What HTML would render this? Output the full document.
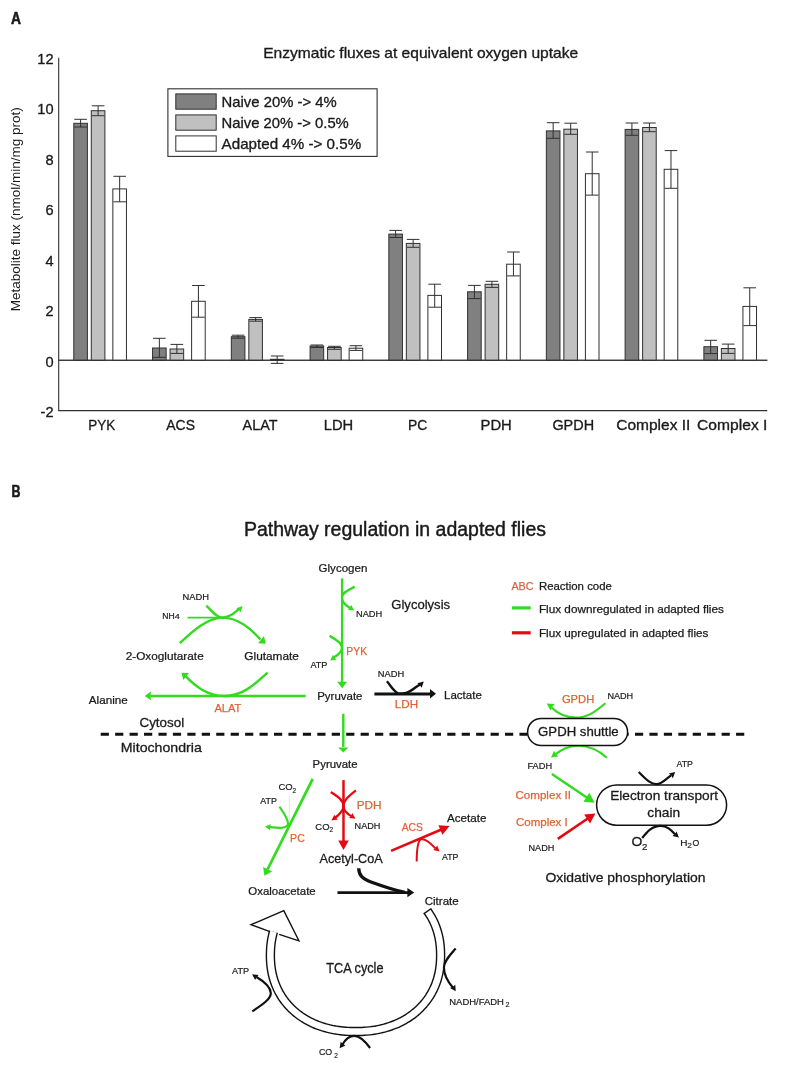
<!DOCTYPE html>
<html><head><meta charset="utf-8"><style>
html,body{margin:0;padding:0;background:#fff;}
svg{display:block;will-change:transform;}
text{font-family:"Liberation Sans",sans-serif;stroke-linejoin:round;}
</style></head><body>
<svg width="785" height="1066" viewBox="0 0 785 1066">
<rect width="785" height="1066" fill="#fff"/>
<g fill="#1a1a1a" stroke="#1a1a1a" stroke-width="0">
<text x="11.0" y="23.6" font-size="16.6" font-weight="bold" stroke-width="0.6" textLength="10.0" lengthAdjust="spacingAndGlyphs">A</text>
<text x="263.2" y="58.2" font-size="15" textLength="315.0" lengthAdjust="spacingAndGlyphs" stroke-width="0.33">Enzymatic fluxes at equivalent oxygen uptake</text>
<path d="M58.7,57.8V410.6H767.3" fill="none" stroke="#303030" stroke-width="1.1"/>
<path d="M58.7,360.3H767.3" fill="none" stroke="#303030" stroke-width="1.1"/>
<text x="53.5" y="63.7" font-size="14.6" stroke-width="0.32" text-anchor="end">12</text>
<text x="53.5" y="114.2" font-size="14.6" stroke-width="0.32" text-anchor="end">10</text>
<text x="53.5" y="164.7" font-size="14.6" stroke-width="0.32" text-anchor="end">8</text>
<text x="53.5" y="215.2" font-size="14.6" stroke-width="0.32" text-anchor="end">6</text>
<text x="53.5" y="265.7" font-size="14.6" stroke-width="0.32" text-anchor="end">4</text>
<text x="53.5" y="316.2" font-size="14.6" stroke-width="0.32" text-anchor="end">2</text>
<text x="53.5" y="366.7" font-size="14.6" stroke-width="0.32" text-anchor="end">0</text>
<text x="53.5" y="417.2" font-size="14.6" stroke-width="0.32" text-anchor="end">-2</text>
<text transform="translate(20.3,311.2) rotate(-90)" font-size="13.3" textLength="204" lengthAdjust="spacingAndGlyphs">Metabolite flux (nmol/min/mg prot)</text>
<rect x="73.80" y="123.30" width="13.6" height="237.00" fill="#808080" stroke="#303030" stroke-width="1"/>
<path d="M74.30,119.30H86.90M80.60,119.30V127.00M74.30,127.00H86.90" fill="none" stroke="#303030" stroke-width="1"/>
<rect x="91.30" y="110.70" width="13.6" height="249.60" fill="#c0c0c0" stroke="#303030" stroke-width="1"/>
<path d="M91.80,105.80H104.40M98.10,105.80V115.70M91.80,115.70H104.40" fill="none" stroke="#303030" stroke-width="1"/>
<rect x="112.85" y="188.90" width="13.6" height="171.40" fill="#ffffff" stroke="#303030" stroke-width="1"/>
<path d="M113.35,176.30H125.95M119.65,176.30V201.80M113.35,201.80H125.95" fill="none" stroke="#303030" stroke-width="1"/>
<rect x="152.56" y="348.00" width="13.6" height="12.30" fill="#808080" stroke="#303030" stroke-width="1"/>
<path d="M153.06,338.30H165.66M159.36,338.30V357.30M153.06,357.30H165.66" fill="none" stroke="#303030" stroke-width="1"/>
<rect x="170.06" y="349.00" width="13.6" height="11.30" fill="#c0c0c0" stroke="#303030" stroke-width="1"/>
<path d="M170.56,344.40H183.16M176.86,344.40V353.40M170.56,353.40H183.16" fill="none" stroke="#303030" stroke-width="1"/>
<rect x="191.61" y="301.30" width="13.6" height="59.00" fill="#ffffff" stroke="#303030" stroke-width="1"/>
<path d="M192.11,285.50H204.71M198.41,285.50V317.20M192.11,317.20H204.71" fill="none" stroke="#303030" stroke-width="1"/>
<rect x="231.32" y="336.70" width="13.6" height="23.60" fill="#808080" stroke="#303030" stroke-width="1"/>
<path d="M231.82,335.20H244.42M238.12,335.20V338.20M231.82,338.20H244.42" fill="none" stroke="#303030" stroke-width="1"/>
<rect x="248.82" y="319.40" width="13.6" height="40.90" fill="#c0c0c0" stroke="#303030" stroke-width="1"/>
<path d="M249.32,317.60H261.92M255.62,317.60V321.20M249.32,321.20H261.92" fill="none" stroke="#303030" stroke-width="1"/>
<rect x="270.37" y="359.30" width="13.6" height="1.00" fill="#ffffff" stroke="#303030" stroke-width="1"/>
<path d="M270.87,356.00H283.47M277.17,356.00V363.40M270.87,363.40H283.47" fill="none" stroke="#303030" stroke-width="1"/>
<rect x="310.08" y="346.00" width="13.6" height="14.30" fill="#808080" stroke="#303030" stroke-width="1"/>
<path d="M310.58,345.00H323.18M316.88,345.00V347.50M310.58,347.50H323.18" fill="none" stroke="#303030" stroke-width="1"/>
<rect x="327.58" y="347.50" width="13.6" height="12.80" fill="#c0c0c0" stroke="#303030" stroke-width="1"/>
<path d="M328.08,346.30H340.68M334.38,346.30V349.30M328.08,349.30H340.68" fill="none" stroke="#303030" stroke-width="1"/>
<rect x="349.13" y="348.20" width="13.6" height="12.10" fill="#ffffff" stroke="#303030" stroke-width="1"/>
<path d="M349.63,345.70H362.23M355.93,345.70V350.40M349.63,350.40H362.23" fill="none" stroke="#303030" stroke-width="1"/>
<rect x="388.84" y="234.10" width="13.6" height="126.20" fill="#808080" stroke="#303030" stroke-width="1"/>
<path d="M389.34,230.40H401.94M395.64,230.40V237.50M389.34,237.50H401.94" fill="none" stroke="#303030" stroke-width="1"/>
<rect x="406.34" y="243.40" width="13.6" height="116.90" fill="#c0c0c0" stroke="#303030" stroke-width="1"/>
<path d="M406.84,239.40H419.44M413.14,239.40V247.30M406.84,247.30H419.44" fill="none" stroke="#303030" stroke-width="1"/>
<rect x="427.89" y="295.40" width="13.6" height="64.90" fill="#ffffff" stroke="#303030" stroke-width="1"/>
<path d="M428.39,284.20H440.99M434.69,284.20V307.20M428.39,307.20H440.99" fill="none" stroke="#303030" stroke-width="1"/>
<rect x="467.60" y="291.80" width="13.6" height="68.50" fill="#808080" stroke="#303030" stroke-width="1"/>
<path d="M468.10,285.40H480.70M474.40,285.40V298.60M468.10,298.60H480.70" fill="none" stroke="#303030" stroke-width="1"/>
<rect x="485.10" y="284.30" width="13.6" height="76.00" fill="#c0c0c0" stroke="#303030" stroke-width="1"/>
<path d="M485.60,281.30H498.20M491.90,281.30V287.40M485.60,287.40H498.20" fill="none" stroke="#303030" stroke-width="1"/>
<rect x="506.65" y="264.20" width="13.6" height="96.10" fill="#ffffff" stroke="#303030" stroke-width="1"/>
<path d="M507.15,252.00H519.75M513.45,252.00V275.90M507.15,275.90H519.75" fill="none" stroke="#303030" stroke-width="1"/>
<rect x="546.36" y="130.90" width="13.6" height="229.40" fill="#808080" stroke="#303030" stroke-width="1"/>
<path d="M546.86,122.70H559.46M553.16,122.70V138.30M546.86,138.30H559.46" fill="none" stroke="#303030" stroke-width="1"/>
<rect x="563.86" y="129.20" width="13.6" height="231.10" fill="#c0c0c0" stroke="#303030" stroke-width="1"/>
<path d="M564.36,123.20H576.96M570.66,123.20V134.30M564.36,134.30H576.96" fill="none" stroke="#303030" stroke-width="1"/>
<rect x="585.41" y="173.70" width="13.6" height="186.60" fill="#ffffff" stroke="#303030" stroke-width="1"/>
<path d="M585.91,152.00H598.51M592.21,152.00V195.10M585.91,195.10H598.51" fill="none" stroke="#303030" stroke-width="1"/>
<rect x="625.12" y="129.40" width="13.6" height="230.90" fill="#808080" stroke="#303030" stroke-width="1"/>
<path d="M625.62,123.00H638.22M631.92,123.00V135.30M625.62,135.30H638.22" fill="none" stroke="#303030" stroke-width="1"/>
<rect x="642.62" y="127.50" width="13.6" height="232.80" fill="#c0c0c0" stroke="#303030" stroke-width="1"/>
<path d="M643.12,123.00H655.72M649.42,123.00V131.70M643.12,131.70H655.72" fill="none" stroke="#303030" stroke-width="1"/>
<rect x="664.17" y="169.30" width="13.6" height="191.00" fill="#ffffff" stroke="#303030" stroke-width="1"/>
<path d="M664.67,150.60H677.27M670.97,150.60V188.30M664.67,188.30H677.27" fill="none" stroke="#303030" stroke-width="1"/>
<rect x="703.88" y="346.70" width="13.6" height="13.60" fill="#808080" stroke="#303030" stroke-width="1"/>
<path d="M704.38,340.30H716.98M710.68,340.30V353.60M704.38,353.60H716.98" fill="none" stroke="#303030" stroke-width="1"/>
<rect x="721.38" y="348.50" width="13.6" height="11.80" fill="#c0c0c0" stroke="#303030" stroke-width="1"/>
<path d="M721.88,344.10H734.48M728.18,344.10V353.40M721.88,353.40H734.48" fill="none" stroke="#303030" stroke-width="1"/>
<rect x="742.93" y="306.40" width="13.6" height="53.90" fill="#ffffff" stroke="#303030" stroke-width="1"/>
<path d="M743.43,287.80H756.03M749.73,287.80V325.60M743.43,325.60H756.03" fill="none" stroke="#303030" stroke-width="1"/>
<path d="M58.7,360.3H767.3" fill="none" stroke="#303030" stroke-width="1.1"/>
<text x="88.3" y="429.8" font-size="15" textLength="26.9" lengthAdjust="spacingAndGlyphs" stroke-width="0.33">PYK</text>
<text x="166.3" y="429.8" font-size="15" textLength="28.7" lengthAdjust="spacingAndGlyphs" stroke-width="0.33">ACS</text>
<text x="242.6" y="429.8" font-size="15" textLength="34.9" lengthAdjust="spacingAndGlyphs" stroke-width="0.33">ALAT</text>
<text x="323.7" y="429.8" font-size="15" textLength="29.5" lengthAdjust="spacingAndGlyphs" stroke-width="0.33">LDH</text>
<text x="408.0" y="429.8" font-size="15" textLength="19.3" lengthAdjust="spacingAndGlyphs" stroke-width="0.33">PC</text>
<text x="480.5" y="429.8" font-size="15" textLength="31.3" lengthAdjust="spacingAndGlyphs" stroke-width="0.33">PDH</text>
<text x="552.4" y="429.8" font-size="15" textLength="41.7" lengthAdjust="spacingAndGlyphs" stroke-width="0.33">GPDH</text>
<text x="616.2" y="429.8" font-size="15" textLength="74.2" lengthAdjust="spacingAndGlyphs" stroke-width="0.33">Complex II</text>
<text x="697.1" y="429.8" font-size="15" textLength="70.3" lengthAdjust="spacingAndGlyphs" stroke-width="0.33">Complex I</text>
<rect x="167.9" y="88.8" width="209.2" height="67.6" fill="#fff" stroke="#303030" stroke-width="1.1"/>
<rect x="175.8" y="93.9" width="40.4" height="15.3" fill="#808080" stroke="#303030" stroke-width="1"/>
<rect x="175.8" y="114.9" width="40.4" height="15.3" fill="#c0c0c0" stroke="#303030" stroke-width="1"/>
<rect x="175.8" y="135.9" width="40.4" height="15.3" fill="#ffffff" stroke="#303030" stroke-width="1"/>
<text x="221.6" y="106.8" font-size="14.8" textLength="115.0" lengthAdjust="spacingAndGlyphs" stroke-width="0.33">Naive 20% -&gt; 4%</text>
<text x="221.6" y="128.2" font-size="14.8" textLength="127.2" lengthAdjust="spacingAndGlyphs" stroke-width="0.33">Naive 20% -&gt; 0.5%</text>
<text x="221.6" y="149.4" font-size="14.8" textLength="139.6" lengthAdjust="spacingAndGlyphs" stroke-width="0.33">Adapted 4% -&gt; 0.5%</text>
<text x="11.6" y="496.6" font-size="16.2" font-weight="bold" stroke-width="0.6" textLength="9.0" lengthAdjust="spacingAndGlyphs">B</text>
<text x="244.0" y="536.2" font-size="20" textLength="302.0" lengthAdjust="spacingAndGlyphs" stroke-width="0.44">Pathway regulation in adapted flies</text>
<text x="511.4" y="589.8" font-size="11.4" textLength="22.0" lengthAdjust="spacingAndGlyphs" fill="#dc6238" stroke="#dc6238" stroke-width="0.25">ABC</text>
<text x="538.9" y="589.8" font-size="11.4" textLength="73.0" lengthAdjust="spacingAndGlyphs" stroke-width="0.25">Reaction code</text>
<path d="M511.9,607.9H530.7" stroke="#33da20" stroke-width="3.2"/>
<path d="M511.9,632.8H530.7" stroke="#e40a12" stroke-width="3.2"/>
<text x="538.9" y="612.5" font-size="11.4" textLength="185.0" lengthAdjust="spacingAndGlyphs" stroke-width="0.25">Flux downregulated in adapted flies</text>
<text x="538.9" y="636.9" font-size="11.4" textLength="169.5" lengthAdjust="spacingAndGlyphs" stroke-width="0.25">Flux upregulated in adapted flies</text>
<text x="182.6" y="599.5" font-size="8.6" textLength="26.5" lengthAdjust="spacingAndGlyphs" stroke-width="0.19">NADH</text>
<text x="162.2" y="619.0" font-size="8.8" textLength="12.4" lengthAdjust="spacingAndGlyphs" stroke-width="0.19">NH</text>
<text x="174.8" y="619.0" font-size="7.2" textLength="5.0" lengthAdjust="spacingAndGlyphs" stroke-width="0.16">4</text>
<path d="M187.5,617.6H222" fill="none" stroke="#33da20" stroke-width="1.7"/>
<path d="M206.3,605.6C213,612 217,617.6 222,617.6C229,617.6 233,614 238.6,609.2" fill="none" stroke="#33da20" stroke-width="2.4"/>
<polygon points="242.60,606.10 240.70,612.35 238.88,609.92 236.40,608.16" fill="#33da20"/>
<path d="M179.8,643.1C188,636 204,618.5 222,617.6C238,617.6 250,628 260.5,639.5" fill="none" stroke="#33da20" stroke-width="2.4"/>
<polygon points="265.80,643.70 258.02,643.15 260.99,639.64 263.95,636.12" fill="#33da20"/>
<text x="125.7" y="660.3" font-size="11" textLength="78.0" lengthAdjust="spacingAndGlyphs" stroke-width="0.24">2-Oxoglutarate</text>
<text x="244.3" y="659.5" font-size="11.3" textLength="54.6" lengthAdjust="spacingAndGlyphs" stroke-width="0.25">Glutamate</text>
<path d="M267.6,672.6C255,684 243,696 224.3,696C207,696 195,686 185.5,676.2" fill="none" stroke="#33da20" stroke-width="2.4"/>
<polygon points="181.50,672.80 188.99,673.12 186.14,676.60 183.29,680.08" fill="#33da20"/>
<path d="M305.7,696H150.5" fill="none" stroke="#33da20" stroke-width="2.4"/>
<polygon points="144.80,695.90 150.80,691.50 150.80,695.90 150.80,700.30" fill="#33da20"/>
<text x="88.8" y="703.7" font-size="11" textLength="38.9" lengthAdjust="spacingAndGlyphs" stroke-width="0.24">Alanine</text>
<text x="214.4" y="712.4" font-size="11.5" textLength="27.0" lengthAdjust="spacingAndGlyphs" fill="#dc6238" stroke="#dc6238" stroke-width="0.25">ALAT</text>
<text x="318.6" y="571.8" font-size="10.5" textLength="48.7" lengthAdjust="spacingAndGlyphs" stroke-width="0.23">Glycogen</text>
<path d="M342.1,578.4V682" fill="none" stroke="#33da20" stroke-width="2.4"/>
<polygon points="342.10,688.30 337.10,681.70 342.10,681.70 347.10,681.70" fill="#33da20"/>
<path d="M354.6,586.6C347,591 342.1,593 342.1,596.5" fill="none" stroke="#33da20" stroke-width="2.4"/>
<path d="M342.1,599.5C343,603 346.5,606 350.5,608.2" fill="none" stroke="#33da20" stroke-width="2.4"/>
<polygon points="354.20,610.60 347.72,609.77 349.81,607.56 351.14,604.83" fill="#33da20"/>
<text x="356.0" y="617.2" font-size="8.8" textLength="26.2" lengthAdjust="spacingAndGlyphs" stroke-width="0.19">NADH</text>
<text x="391.3" y="609.0" font-size="12.7" textLength="58.8" lengthAdjust="spacingAndGlyphs" stroke-width="0.28">Glycolysis</text>
<path d="M329.6,635.9C337,640 342.1,644 342.1,647.4C342.1,651 338,655 333.5,657.8" fill="none" stroke="#33da20" stroke-width="2.4"/>
<polygon points="330.10,660.40 333.10,654.80 334.39,657.54 336.42,659.79" fill="#33da20"/>
<text x="310.4" y="668.4" font-size="8.8" textLength="17.0" lengthAdjust="spacingAndGlyphs" stroke-width="0.19">ATP</text>
<text x="346.3" y="655.0" font-size="11.3" textLength="20.8" lengthAdjust="spacingAndGlyphs" fill="#dc6238" stroke="#dc6238" stroke-width="0.25">PYK</text>
<text x="317.2" y="699.6" font-size="11" textLength="45.3" lengthAdjust="spacingAndGlyphs" stroke-width="0.24">Pyruvate</text>
<path d="M374.4,694H430.5" fill="none" stroke="#111" stroke-width="2.8"/>
<polygon points="436.00,693.80 430.00,698.60 430.00,693.80 430.00,689.00" fill="#111"/>
<path d="M386.9,681.3C391.5,686.5 395,693.8 400,693.8C405,693.8 409,692.5 413,689.3C415.5,687.3 417.5,685.8 420.0,684.5" fill="none" stroke="#111" stroke-width="2.4"/>
<polygon points="423.80,681.40 421.67,687.81 419.85,685.26 417.34,683.37" fill="#111"/>
<text x="377.8" y="676.9" font-size="8.8" textLength="26.4" lengthAdjust="spacingAndGlyphs" stroke-width="0.19">NADH</text>
<text x="394.8" y="708.3" font-size="11.5" textLength="23.3" lengthAdjust="spacingAndGlyphs" fill="#dc6238" stroke="#dc6238" stroke-width="0.25">LDH</text>
<text x="444.0" y="698.7" font-size="11.3" textLength="37.8" lengthAdjust="spacingAndGlyphs" stroke-width="0.25">Lactate</text>
<path d="M100.7,734.2H745" stroke="#111" stroke-width="3.1" stroke-dasharray="8.2 6.24"/>
<text x="139.5" y="726.6" font-size="12.2" textLength="44.6" lengthAdjust="spacingAndGlyphs" stroke-width="0.27">Cytosol</text>
<text x="120.8" y="751.6" font-size="12.8" textLength="81.0" lengthAdjust="spacingAndGlyphs" stroke-width="0.28">Mitochondria</text>
<path d="M343.3,713.7V747" fill="none" stroke="#33da20" stroke-width="2.4"/>
<polygon points="343.30,752.60 338.20,747.40 343.30,747.40 348.40,747.40" fill="#33da20"/>
<text x="312.6" y="768.0" font-size="11" textLength="45.0" lengthAdjust="spacingAndGlyphs" stroke-width="0.24">Pyruvate</text>
<path d="M343.5,780.1V842" fill="none" stroke="#e40a12" stroke-width="2.5"/>
<polygon points="343.50,849.90 338.20,840.50 343.50,840.50 348.80,840.50" fill="#e40a12"/>
<path d="M330.8,792.1C337,796 343.5,800 343.5,806C343.5,800 350,795 355.9,790.4" fill="none" stroke="#e40a12" stroke-width="2.3"/>
<path d="M343.5,806C343.5,811 339,815 334.5,818.3" fill="none" stroke="#e40a12" stroke-width="2.3"/>
<polygon points="331.40,820.50 334.36,814.68 335.74,817.39 337.86,819.56" fill="#e40a12"/>
<path d="M343.5,806C343.5,811 348,814.5 352.5,816.8" fill="none" stroke="#e40a12" stroke-width="2.3"/>
<polygon points="355.50,818.80 349.01,818.08 351.06,815.84 352.34,813.09" fill="#e40a12"/>
<text x="315.3" y="829.6" font-size="8.8" textLength="14.2" lengthAdjust="spacingAndGlyphs" stroke-width="0.19">CO</text>
<text x="329.6" y="832.2" font-size="6.5" textLength="3.6" lengthAdjust="spacingAndGlyphs" stroke-width="0.14">2</text>
<text x="356.7" y="809.0" font-size="11.5" textLength="24.8" lengthAdjust="spacingAndGlyphs" fill="#dc6238" stroke="#dc6238" stroke-width="0.25">PDH</text>
<text x="354.6" y="828.9" font-size="8.8" textLength="25.8" lengthAdjust="spacingAndGlyphs" stroke-width="0.19">NADH</text>
<text x="319.5" y="862.8" font-size="12.3" textLength="63.2" lengthAdjust="spacingAndGlyphs" stroke-width="0.27">Acetyl-CoA</text>
<path d="M312.7,778.9L267.5,869.5" fill="none" stroke="#33da20" stroke-width="2.7"/>
<path d="M289.3,796.3V821" stroke="#d8d8d8" stroke-width="0.7"/>
<polygon points="264.40,875.70 263.10,867.03 267.58,869.24 272.07,871.45" fill="#33da20"/>
<path d="M279.4,806.7C284,813 288,819 288.2,824.6C286,828.5 281,828.4 270.0,827.1" fill="none" stroke="#33da20" stroke-width="2.1"/>
<polygon points="264.90,826.60 270.80,824.25 270.02,827.18 270.13,830.21" fill="#33da20"/>
<text x="278.4" y="789.9" font-size="8.8" textLength="14.2" lengthAdjust="spacingAndGlyphs" stroke-width="0.19">CO</text>
<text x="292.6" y="792.6" font-size="6.5" textLength="3.6" lengthAdjust="spacingAndGlyphs" stroke-width="0.14">2</text>
<text x="260.3" y="804.0" font-size="8.8" textLength="16.6" lengthAdjust="spacingAndGlyphs" stroke-width="0.19">ATP</text>
<text x="290.1" y="841.6" font-size="11.5" textLength="14.7" lengthAdjust="spacingAndGlyphs" fill="#dc6238" stroke="#dc6238" stroke-width="0.25">PC</text>
<text x="248.3" y="895.0" font-size="11" textLength="67.4" lengthAdjust="spacingAndGlyphs" stroke-width="0.24">Oxaloacetate</text>
<path d="M391,850.9L441.5,829.5" fill="none" stroke="#e40a12" stroke-width="2.6"/>
<polygon points="449.60,826.10 442.45,834.81 440.40,830.03 438.36,825.25" fill="#e40a12"/>
<path d="M416.7,861.6C416.7,852 417.5,842 420.5,839.4C425,838 430,843 435.5,848.4" fill="none" stroke="#e40a12" stroke-width="2.0"/>
<polygon points="439.60,851.60 433.25,850.06 435.57,848.10 437.19,845.53" fill="#e40a12"/>
<text x="401.7" y="831.3" font-size="11.5" textLength="21.2" lengthAdjust="spacingAndGlyphs" fill="#dc6238" stroke="#dc6238" stroke-width="0.25">ACS</text>
<text x="447.0" y="821.5" font-size="11.3" textLength="39.4" lengthAdjust="spacingAndGlyphs" stroke-width="0.25">Acetate</text>
<text x="442.0" y="859.7" font-size="8.8" textLength="16.4" lengthAdjust="spacingAndGlyphs" stroke-width="0.19">ATP</text>
<path d="M337.5,892.6H408" fill="none" stroke="#111" stroke-width="2.8"/>
<polygon points="414.20,892.60 407.40,897.30 407.40,892.60 407.40,887.90" fill="#111"/>
<path d="M358.7,868.3C358.9,875.5 362.5,879 371,882C382,886 394,890.2 405,892.4" fill="none" stroke="#111" stroke-width="3.3"/>
<text x="424.7" y="905.4" font-size="11.3" textLength="34.0" lengthAdjust="spacingAndGlyphs" stroke-width="0.25">Citrate</text>
<path d="M270.6,931.8L251.0,924.7L283.8,910.7L298.9,940.8L279.2,934.4" fill="#fff" stroke="#111" stroke-width="1.4" stroke-linejoin="miter"/>
<path d="M427.48,911.13C427.67,911.40 428.24,912.21 428.61,912.76C428.98,913.30 429.34,913.86 429.69,914.41C430.04,914.97 430.38,915.54 430.72,916.10C431.05,916.67 431.38,917.25 431.70,917.83C432.02,918.40 432.33,918.99 432.63,919.58C432.94,920.17 433.23,920.76 433.52,921.36C433.80,921.96 434.08,922.56 434.35,923.17C434.62,923.78 434.88,924.39 435.13,925.01C435.38,925.63 435.63,926.25 435.86,926.88C436.10,927.51 436.33,928.14 436.54,928.78C436.76,929.42 436.97,930.06 437.17,930.70C437.37,931.35 437.57,932.00 437.75,932.66C437.93,933.32 438.11,933.98 438.27,934.64C438.44,935.31 438.60,935.98 438.74,936.66C438.89,937.33 439.03,938.01 439.16,938.70C439.29,939.39 439.42,940.08 439.53,940.78C439.64,941.48 439.75,942.18 439.84,942.89C439.94,943.60 440.02,944.31 440.10,945.04C440.18,945.76 440.25,946.49 440.30,947.24C440.36,947.98 440.41,948.73 440.46,949.49C440.50,950.26 440.53,951.02 440.55,951.83C440.58,952.64 440.59,953.45 440.60,954.34C440.60,955.22 440.60,956.26 440.59,957.13C440.58,958.00 440.55,958.77 440.52,959.55C440.49,960.34 440.45,961.10 440.41,961.86C440.36,962.61 440.30,963.35 440.23,964.09C440.17,964.82 440.09,965.55 440.01,966.27C439.93,966.99 439.83,967.70 439.73,968.40C439.63,969.11 439.52,969.81 439.40,970.50C439.28,971.19 439.15,971.88 439.01,972.56C438.88,973.25 438.73,973.92 438.58,974.60C438.42,975.27 438.26,975.94 438.08,976.60C437.91,977.26 437.73,977.92 437.54,978.57C437.35,979.22 437.15,979.87 436.94,980.52C436.74,981.16 436.52,981.80 436.30,982.43C436.07,983.07 435.84,983.69 435.60,984.32C435.36,984.94 435.11,985.56 434.85,986.18C434.59,986.79 434.32,987.40 434.05,988.01C433.77,988.61 433.49,989.21 433.19,989.81C432.90,990.40 432.60,990.99 432.29,991.58C431.98,992.16 431.67,992.74 431.34,993.32C431.02,993.89 430.68,994.46 430.34,995.03C430.00,995.59 429.65,996.15 429.29,996.71C428.93,997.26 428.57,997.81 428.19,998.35C427.82,998.90 427.44,999.43 427.05,999.97C426.66,1000.50 426.26,1001.03 425.86,1001.55C425.45,1002.07 425.04,1002.58 424.62,1003.09C424.20,1003.60 423.77,1004.11 423.34,1004.61C422.90,1005.11 422.46,1005.60 422.01,1006.08C421.56,1006.57 421.10,1007.05 420.64,1007.53C420.17,1008.00 419.70,1008.47 419.22,1008.93C418.74,1009.39 418.25,1009.85 417.76,1010.30C417.27,1010.75 416.76,1011.19 416.26,1011.63C415.75,1012.07 415.23,1012.50 414.71,1012.92C414.19,1013.35 413.66,1013.77 413.13,1014.18C412.59,1014.59 412.05,1014.99 411.50,1015.39C410.95,1015.79 410.40,1016.18 409.84,1016.57C409.28,1016.95 408.71,1017.33 408.14,1017.70C407.56,1018.07 406.98,1018.43 406.39,1018.79C405.81,1019.15 405.21,1019.50 404.61,1019.84C404.02,1020.18 403.41,1020.52 402.80,1020.85C402.19,1021.18 401.57,1021.50 400.95,1021.81C400.32,1022.13 399.70,1022.44 399.06,1022.74C398.43,1023.04 397.79,1023.33 397.14,1023.62C396.49,1023.90 395.84,1024.18 395.18,1024.45C394.53,1024.72 393.86,1024.98 393.19,1025.24C392.53,1025.50 391.85,1025.74 391.17,1025.98C390.49,1026.22 389.81,1026.46 389.12,1026.68C388.43,1026.91 387.73,1027.13 387.03,1027.34C386.33,1027.55 385.62,1027.75 384.91,1027.94C384.20,1028.14 383.49,1028.33 382.76,1028.51C382.04,1028.68 381.31,1028.86 380.58,1029.02C379.85,1029.18 379.11,1029.34 378.37,1029.49C377.62,1029.63 376.87,1029.77 376.12,1029.91C375.36,1030.04 374.60,1030.16 373.84,1030.28C373.07,1030.40 372.30,1030.50 371.52,1030.61C370.74,1030.71 369.96,1030.80 369.16,1030.88C368.37,1030.97 367.57,1031.04 366.76,1031.11C365.95,1031.18 365.14,1031.24 364.31,1031.29C363.48,1031.35 362.65,1031.39 361.79,1031.43C360.93,1031.46 360.08,1031.49 359.17,1031.51C358.27,1031.53 357.35,1031.54 356.36,1031.55C355.38,1031.55 354.22,1031.55 353.26,1031.54C352.29,1031.52 351.44,1031.51 350.56,1031.48C349.69,1031.45 348.84,1031.41 348.00,1031.37C347.16,1031.32 346.33,1031.27 345.51,1031.21C344.70,1031.15 343.89,1031.08 343.09,1031.01C342.29,1030.93 341.49,1030.85 340.71,1030.76C339.92,1030.66 339.14,1030.56 338.37,1030.46C337.60,1030.35 336.83,1030.23 336.07,1030.11C335.31,1029.98 334.55,1029.85 333.81,1029.71C333.06,1029.57 332.31,1029.43 331.57,1029.27C330.84,1029.11 330.10,1028.95 329.37,1028.78C328.65,1028.61 327.92,1028.43 327.21,1028.24C326.49,1028.06 325.78,1027.86 325.07,1027.66C324.37,1027.46 323.67,1027.25 322.97,1027.03C322.27,1026.81 321.58,1026.59 320.90,1026.36C320.21,1026.12 319.53,1025.88 318.86,1025.63C318.19,1025.39 317.52,1025.13 316.85,1024.87C316.19,1024.61 315.53,1024.34 314.88,1024.06C314.23,1023.78 313.58,1023.49 312.94,1023.20C312.30,1022.91 311.66,1022.61 311.04,1022.30C310.41,1022.00 309.78,1021.68 309.17,1021.36C308.55,1021.04 307.94,1020.71 307.33,1020.37C306.73,1020.04 306.13,1019.70 305.53,1019.35C304.94,1019.00 304.35,1018.64 303.77,1018.28C303.19,1017.91 302.62,1017.54 302.05,1017.16C301.48,1016.79 300.92,1016.40 300.36,1016.01C299.81,1015.62 299.26,1015.22 298.72,1014.82C298.18,1014.41 297.64,1014.00 297.11,1013.58C296.58,1013.17 296.06,1012.74 295.55,1012.31C295.03,1011.88 294.52,1011.44 294.02,1011.00C293.52,1010.56 293.03,1010.11 292.54,1009.65C292.05,1009.20 291.57,1008.73 291.10,1008.27C290.63,1007.80 290.16,1007.32 289.70,1006.84C289.25,1006.36 288.80,1005.88 288.35,1005.38C287.91,1004.89 287.47,1004.39 287.05,1003.89C286.62,1003.39 286.20,1002.88 285.78,1002.36C285.37,1001.85 284.97,1001.32 284.57,1000.80C284.17,1000.27 283.78,999.74 283.40,999.20C283.02,998.66 282.64,998.12 282.28,997.57C281.91,997.02 281.55,996.47 281.20,995.91C280.85,995.35 280.51,994.79 280.18,994.22C279.84,993.65 279.52,993.07 279.20,992.49C278.88,991.91 278.57,991.33 278.27,990.74C277.97,990.15 277.68,989.55 277.39,988.95C277.11,988.35 276.83,987.75 276.57,987.14C276.30,986.53 276.04,985.91 275.79,985.29C275.54,984.68 275.30,984.05 275.06,983.42C274.83,982.79 274.60,982.16 274.39,981.52C274.17,980.88 273.96,980.24 273.76,979.59C273.57,978.94 273.38,978.29 273.19,977.63C273.01,976.98 272.84,976.31 272.68,975.65C272.51,974.98 272.36,974.31 272.21,973.63C272.06,972.95 271.93,972.27 271.80,971.58C271.67,970.90 271.55,970.20 271.44,969.50C271.33,968.80 271.22,968.10 271.13,967.39C271.04,966.68 270.95,965.96 270.88,965.23C270.80,964.51 270.73,963.78 270.68,963.03C270.62,962.29 270.57,961.54 270.53,960.77C270.49,960.00 270.46,959.23 270.44,958.42C270.42,957.60 270.40,956.76 270.40,955.88C270.40,954.99 270.40,953.97 270.42,953.11C270.43,952.25 270.45,951.49 270.49,950.70C270.52,949.92 270.56,949.16 270.61,948.41C270.66,947.65 270.72,946.92 270.79,946.18C270.85,945.45 270.93,944.73 271.02,944.01C271.10,943.29 271.20,942.58 271.30,941.88C271.41,941.17 271.52,940.48 271.64,939.78C271.76,939.09 271.89,938.40 272.03,937.72C272.17,937.04 272.32,936.36 272.47,935.69C272.63,935.02 272.80,934.36 272.97,933.69C273.14,933.03 273.43,932.05 273.52,931.72" fill="none" stroke="#111" stroke-width="9.4"/>
<path d="M427.48,911.13C427.67,911.40 428.24,912.21 428.61,912.76C428.98,913.30 429.34,913.86 429.69,914.41C430.04,914.97 430.38,915.54 430.72,916.10C431.05,916.67 431.38,917.25 431.70,917.83C432.02,918.40 432.33,918.99 432.63,919.58C432.94,920.17 433.23,920.76 433.52,921.36C433.80,921.96 434.08,922.56 434.35,923.17C434.62,923.78 434.88,924.39 435.13,925.01C435.38,925.63 435.63,926.25 435.86,926.88C436.10,927.51 436.33,928.14 436.54,928.78C436.76,929.42 436.97,930.06 437.17,930.70C437.37,931.35 437.57,932.00 437.75,932.66C437.93,933.32 438.11,933.98 438.27,934.64C438.44,935.31 438.60,935.98 438.74,936.66C438.89,937.33 439.03,938.01 439.16,938.70C439.29,939.39 439.42,940.08 439.53,940.78C439.64,941.48 439.75,942.18 439.84,942.89C439.94,943.60 440.02,944.31 440.10,945.04C440.18,945.76 440.25,946.49 440.30,947.24C440.36,947.98 440.41,948.73 440.46,949.49C440.50,950.26 440.53,951.02 440.55,951.83C440.58,952.64 440.59,953.45 440.60,954.34C440.60,955.22 440.60,956.26 440.59,957.13C440.58,958.00 440.55,958.77 440.52,959.55C440.49,960.34 440.45,961.10 440.41,961.86C440.36,962.61 440.30,963.35 440.23,964.09C440.17,964.82 440.09,965.55 440.01,966.27C439.93,966.99 439.83,967.70 439.73,968.40C439.63,969.11 439.52,969.81 439.40,970.50C439.28,971.19 439.15,971.88 439.01,972.56C438.88,973.25 438.73,973.92 438.58,974.60C438.42,975.27 438.26,975.94 438.08,976.60C437.91,977.26 437.73,977.92 437.54,978.57C437.35,979.22 437.15,979.87 436.94,980.52C436.74,981.16 436.52,981.80 436.30,982.43C436.07,983.07 435.84,983.69 435.60,984.32C435.36,984.94 435.11,985.56 434.85,986.18C434.59,986.79 434.32,987.40 434.05,988.01C433.77,988.61 433.49,989.21 433.19,989.81C432.90,990.40 432.60,990.99 432.29,991.58C431.98,992.16 431.67,992.74 431.34,993.32C431.02,993.89 430.68,994.46 430.34,995.03C430.00,995.59 429.65,996.15 429.29,996.71C428.93,997.26 428.57,997.81 428.19,998.35C427.82,998.90 427.44,999.43 427.05,999.97C426.66,1000.50 426.26,1001.03 425.86,1001.55C425.45,1002.07 425.04,1002.58 424.62,1003.09C424.20,1003.60 423.77,1004.11 423.34,1004.61C422.90,1005.11 422.46,1005.60 422.01,1006.08C421.56,1006.57 421.10,1007.05 420.64,1007.53C420.17,1008.00 419.70,1008.47 419.22,1008.93C418.74,1009.39 418.25,1009.85 417.76,1010.30C417.27,1010.75 416.76,1011.19 416.26,1011.63C415.75,1012.07 415.23,1012.50 414.71,1012.92C414.19,1013.35 413.66,1013.77 413.13,1014.18C412.59,1014.59 412.05,1014.99 411.50,1015.39C410.95,1015.79 410.40,1016.18 409.84,1016.57C409.28,1016.95 408.71,1017.33 408.14,1017.70C407.56,1018.07 406.98,1018.43 406.39,1018.79C405.81,1019.15 405.21,1019.50 404.61,1019.84C404.02,1020.18 403.41,1020.52 402.80,1020.85C402.19,1021.18 401.57,1021.50 400.95,1021.81C400.32,1022.13 399.70,1022.44 399.06,1022.74C398.43,1023.04 397.79,1023.33 397.14,1023.62C396.49,1023.90 395.84,1024.18 395.18,1024.45C394.53,1024.72 393.86,1024.98 393.19,1025.24C392.53,1025.50 391.85,1025.74 391.17,1025.98C390.49,1026.22 389.81,1026.46 389.12,1026.68C388.43,1026.91 387.73,1027.13 387.03,1027.34C386.33,1027.55 385.62,1027.75 384.91,1027.94C384.20,1028.14 383.49,1028.33 382.76,1028.51C382.04,1028.68 381.31,1028.86 380.58,1029.02C379.85,1029.18 379.11,1029.34 378.37,1029.49C377.62,1029.63 376.87,1029.77 376.12,1029.91C375.36,1030.04 374.60,1030.16 373.84,1030.28C373.07,1030.40 372.30,1030.50 371.52,1030.61C370.74,1030.71 369.96,1030.80 369.16,1030.88C368.37,1030.97 367.57,1031.04 366.76,1031.11C365.95,1031.18 365.14,1031.24 364.31,1031.29C363.48,1031.35 362.65,1031.39 361.79,1031.43C360.93,1031.46 360.08,1031.49 359.17,1031.51C358.27,1031.53 357.35,1031.54 356.36,1031.55C355.38,1031.55 354.22,1031.55 353.26,1031.54C352.29,1031.52 351.44,1031.51 350.56,1031.48C349.69,1031.45 348.84,1031.41 348.00,1031.37C347.16,1031.32 346.33,1031.27 345.51,1031.21C344.70,1031.15 343.89,1031.08 343.09,1031.01C342.29,1030.93 341.49,1030.85 340.71,1030.76C339.92,1030.66 339.14,1030.56 338.37,1030.46C337.60,1030.35 336.83,1030.23 336.07,1030.11C335.31,1029.98 334.55,1029.85 333.81,1029.71C333.06,1029.57 332.31,1029.43 331.57,1029.27C330.84,1029.11 330.10,1028.95 329.37,1028.78C328.65,1028.61 327.92,1028.43 327.21,1028.24C326.49,1028.06 325.78,1027.86 325.07,1027.66C324.37,1027.46 323.67,1027.25 322.97,1027.03C322.27,1026.81 321.58,1026.59 320.90,1026.36C320.21,1026.12 319.53,1025.88 318.86,1025.63C318.19,1025.39 317.52,1025.13 316.85,1024.87C316.19,1024.61 315.53,1024.34 314.88,1024.06C314.23,1023.78 313.58,1023.49 312.94,1023.20C312.30,1022.91 311.66,1022.61 311.04,1022.30C310.41,1022.00 309.78,1021.68 309.17,1021.36C308.55,1021.04 307.94,1020.71 307.33,1020.37C306.73,1020.04 306.13,1019.70 305.53,1019.35C304.94,1019.00 304.35,1018.64 303.77,1018.28C303.19,1017.91 302.62,1017.54 302.05,1017.16C301.48,1016.79 300.92,1016.40 300.36,1016.01C299.81,1015.62 299.26,1015.22 298.72,1014.82C298.18,1014.41 297.64,1014.00 297.11,1013.58C296.58,1013.17 296.06,1012.74 295.55,1012.31C295.03,1011.88 294.52,1011.44 294.02,1011.00C293.52,1010.56 293.03,1010.11 292.54,1009.65C292.05,1009.20 291.57,1008.73 291.10,1008.27C290.63,1007.80 290.16,1007.32 289.70,1006.84C289.25,1006.36 288.80,1005.88 288.35,1005.38C287.91,1004.89 287.47,1004.39 287.05,1003.89C286.62,1003.39 286.20,1002.88 285.78,1002.36C285.37,1001.85 284.97,1001.32 284.57,1000.80C284.17,1000.27 283.78,999.74 283.40,999.20C283.02,998.66 282.64,998.12 282.28,997.57C281.91,997.02 281.55,996.47 281.20,995.91C280.85,995.35 280.51,994.79 280.18,994.22C279.84,993.65 279.52,993.07 279.20,992.49C278.88,991.91 278.57,991.33 278.27,990.74C277.97,990.15 277.68,989.55 277.39,988.95C277.11,988.35 276.83,987.75 276.57,987.14C276.30,986.53 276.04,985.91 275.79,985.29C275.54,984.68 275.30,984.05 275.06,983.42C274.83,982.79 274.60,982.16 274.39,981.52C274.17,980.88 273.96,980.24 273.76,979.59C273.57,978.94 273.38,978.29 273.19,977.63C273.01,976.98 272.84,976.31 272.68,975.65C272.51,974.98 272.36,974.31 272.21,973.63C272.06,972.95 271.93,972.27 271.80,971.58C271.67,970.90 271.55,970.20 271.44,969.50C271.33,968.80 271.22,968.10 271.13,967.39C271.04,966.68 270.95,965.96 270.88,965.23C270.80,964.51 270.73,963.78 270.68,963.03C270.62,962.29 270.57,961.54 270.53,960.77C270.49,960.00 270.46,959.23 270.44,958.42C270.42,957.60 270.40,956.76 270.40,955.88C270.40,954.99 270.40,953.97 270.42,953.11C270.43,952.25 270.45,951.49 270.49,950.70C270.52,949.92 270.56,949.16 270.61,948.41C270.66,947.65 270.72,946.92 270.79,946.18C270.85,945.45 270.93,944.73 271.02,944.01C271.10,943.29 271.20,942.58 271.30,941.88C271.41,941.17 271.52,940.48 271.64,939.78C271.76,939.09 271.89,938.40 272.03,937.72C272.17,937.04 272.32,936.36 272.47,935.69C272.63,935.02 272.80,934.36 272.97,933.69C273.14,933.03 273.43,932.05 273.52,931.72" fill="none" stroke="#fff" stroke-width="6.6"/>
<path d="M423.62,913.81L431.34,908.45" stroke="#111" stroke-width="1.4"/>
<path d="M252.3,1011.3C262,1005 271,999 270.8,993C270.5,987 265,982 256.5,977.0" fill="none" stroke="#111" stroke-width="2.2"/>
<polygon points="252.10,974.30 258.64,974.97 256.53,977.28 255.18,980.11" fill="#111"/>
<text x="232.0" y="973.8" font-size="8.8" textLength="17.0" lengthAdjust="spacingAndGlyphs" stroke-width="0.19">ATP</text>
<path d="M370.1,1048C365,1041 360,1035.8 354.3,1035.8C348,1035.8 345,1040 342.5,1044.5" fill="none" stroke="#111" stroke-width="2.2"/>
<polygon points="339.60,1048.20 340.69,1041.71 342.86,1043.97 345.60,1045.50" fill="#111"/>
<text x="318.9" y="1054.7" font-size="8.8" textLength="13.3" lengthAdjust="spacingAndGlyphs" stroke-width="0.19">CO</text>
<text x="334.2" y="1057.5" font-size="6.5" textLength="3.6" lengthAdjust="spacingAndGlyphs" stroke-width="0.14">2</text>
<path d="M455.7,948.5C450,955 444,961 443.9,967.6C444,975 448,982 452.8,987.5" fill="none" stroke="#111" stroke-width="2.2"/>
<polygon points="455.70,991.20 450.01,987.90 452.89,986.66 455.28,984.64" fill="#111"/>
<text x="449.3" y="1004.5" font-size="8.8" textLength="54.6" lengthAdjust="spacingAndGlyphs" stroke-width="0.19">NADH/FADH</text>
<text x="505.6" y="1007.4" font-size="6.5" textLength="4.0" lengthAdjust="spacingAndGlyphs" stroke-width="0.14">2</text>
<text x="326.3" y="972.5" font-size="14.2" textLength="57.2" lengthAdjust="spacingAndGlyphs" stroke-width="0.31">TCA cycle</text>
<path d="M605.4,703.2C596,711 588,717.6 576,717.6C564,717.6 557.5,713.5 551.5,707.6" fill="none" stroke="#33da20" stroke-width="2.1"/>
<polygon points="546.70,703.40 554.70,703.92 552.11,706.89 550.47,710.47" fill="#33da20"/>
<path d="M606.9,757.7C598,750 590,745.8 578.5,745.8C567,745.8 561,750 555.5,754.4" fill="none" stroke="#33da20" stroke-width="2.1"/>
<polygon points="551.00,757.60 554.00,750.80 555.76,753.98 558.35,756.53" fill="#33da20"/>
<rect x="527.6" y="718.4" width="100" height="27" rx="13.5" fill="#fff" stroke="#111" stroke-width="1.5"/>
<text x="538.1" y="735.6" font-size="13" textLength="80.6" lengthAdjust="spacingAndGlyphs" stroke-width="0.29">GPDH shuttle</text>
<text x="561.9" y="703.2" font-size="11.5" textLength="32.4" lengthAdjust="spacingAndGlyphs" fill="#dc6238" stroke="#dc6238" stroke-width="0.25">GPDH</text>
<text x="607.4" y="699.3" font-size="8.8" textLength="25.8" lengthAdjust="spacingAndGlyphs" stroke-width="0.19">NADH</text>
<text x="527.5" y="769.4" font-size="8.8" textLength="24.6" lengthAdjust="spacingAndGlyphs" stroke-width="0.19">FADH</text>
<path d="M551.9,773.9L587.5,797.9" fill="none" stroke="#33da20" stroke-width="2.4"/>
<polygon points="594.70,802.80 583.44,801.66 586.38,797.25 589.32,792.84" fill="#33da20"/>
<path d="M557.8,838.9L588.5,818" fill="none" stroke="#e40a12" stroke-width="2.6"/>
<polygon points="595.40,813.40 590.07,823.38 587.11,818.99 584.15,814.60" fill="#e40a12"/>
<text x="515.4" y="799.2" font-size="11.3" textLength="55.5" lengthAdjust="spacingAndGlyphs" fill="#dc6238" stroke="#dc6238" stroke-width="0.25">Complex II</text>
<text x="515.9" y="825.8" font-size="11.3" textLength="51.9" lengthAdjust="spacingAndGlyphs" fill="#dc6238" stroke="#dc6238" stroke-width="0.25">Complex I</text>
<text x="528.5" y="850.7" font-size="8.8" textLength="25.8" lengthAdjust="spacingAndGlyphs" stroke-width="0.19">NADH</text>
<rect x="596.6" y="784.9" width="130" height="40.4" rx="20.2" fill="#fff" stroke="#111" stroke-width="1.5"/>
<text x="610.2" y="799.9" font-size="13.2" textLength="107.8" lengthAdjust="spacingAndGlyphs" stroke-width="0.29">Electron transport</text>
<text x="647.3" y="817.3" font-size="13.2" textLength="32.8" lengthAdjust="spacingAndGlyphs" stroke-width="0.29">chain</text>
<path d="M638.7,772C645,778 650,784.2 656.4,784.2C662,784.2 666,779 671.0,775.3" fill="none" stroke="#111" stroke-width="2.2"/>
<polygon points="675.20,772.00 672.86,778.15 671.17,775.50 668.79,773.47" fill="#111"/>
<text x="676.5" y="766.7" font-size="8.8" textLength="16.4" lengthAdjust="spacingAndGlyphs" stroke-width="0.19">ATP</text>
<path d="M642.2,838C647,832 652,825.8 660.5,825.8C667,825.8 671,830 675.0,834.3" fill="none" stroke="#111" stroke-width="2.2"/>
<polygon points="678.90,837.60 672.51,836.06 674.91,834.05 676.62,831.43" fill="#111"/>
<text x="631.6" y="845.8" font-size="13.2" textLength="10.8" lengthAdjust="spacingAndGlyphs" stroke-width="0.29">O</text>
<text x="642.0" y="849.9" font-size="9" textLength="5.4" lengthAdjust="spacingAndGlyphs" stroke-width="0.20">2</text>
<text x="680.2" y="845.8" font-size="8.8" textLength="7.2" lengthAdjust="spacingAndGlyphs" stroke-width="0.19">H</text>
<text x="687.2" y="848.2" font-size="7" textLength="4.6" lengthAdjust="spacingAndGlyphs" stroke-width="0.15">2</text>
<text x="692.5" y="845.8" font-size="8.8" textLength="6.8" lengthAdjust="spacingAndGlyphs" stroke-width="0.19">O</text>
<text x="545.5" y="882.2" font-size="13.3" textLength="160.0" lengthAdjust="spacingAndGlyphs" stroke-width="0.29">Oxidative phosphorylation</text>
</g>
</svg>
</body></html>
